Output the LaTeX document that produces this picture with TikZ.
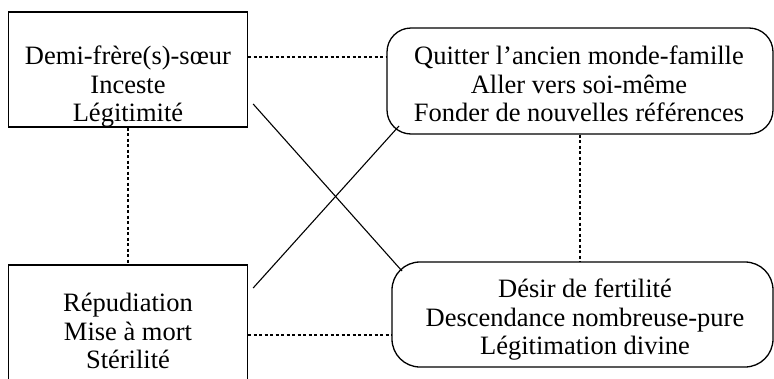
\documentclass[tikz,border=0pt]{standalone}
\usepackage{fontspec}
\setmainfont{Liberation Serif}
\usetikzlibrary{calc}
\begin{document}
\begin{tikzpicture}[x=1pt,y=-1pt,
  sqbox/.style={draw,line width=1.3pt,rectangle,inner sep=0pt},
  rndbox/.style={draw,line width=1.3pt,rectangle,inner sep=0pt},
  txt/.style={font=\fontsize{26.5}{28.5}\selectfont,align=center,inner sep=0pt},
  dots/.style={line width=1.4pt,dash pattern=on 3pt off 2.5pt},
  link/.style={line width=1.1pt}]
\useasboundingbox (0,0) rectangle (774,378);
\clip (0,0) rectangle (774,378);
% boxes
\node[sqbox,minimum width=239pt,minimum height=115pt] (A) at (128,69.5) {};
\node[sqbox,minimum width=239pt,minimum height=130pt] (C) at (128,330) {};
\node[rndbox,rounded corners=24pt,minimum width=386pt,minimum height=106pt] (B) at (580,81) {};
\node[rndbox,rounded corners=28pt,minimum width=381pt,minimum height=105pt] (D) at (582.5,314.5) {};
% texts
\node[txt] (tA) at (128,87) {Demi-frère(s)-sœur\\Inceste\\Légitimité};
\node[txt] (tB) at (579,84) {Quitter l’ancien monde-famille\\Aller vers soi-même\\Fonder de nouvelles références};
\node[txt] (tC) at (128,331) {Répudiation\\Mise à mort\\Stérilité};
\node[txt] (tD) at (585,320) {Désir de fertilité\\Descendance nombreuse-pure\\Légitimation divine};
% connectors
\coordinate (a1) at ([xshift=5pt]A.east |- 0,104);
\coordinate (d1) at (402,271);
\coordinate (c1) at ([xshift=5pt]C.east |- 0,288);
\coordinate (b1) at (399,126);
\draw[dots] (A.east |- 0,57) -- (B.west |- 0,57);
\draw[dots] (A.south) -- (C.north);
\draw[dots] (B.south) -- (B.south |- D.north);
\draw[dots] (C.east |- 0,335) -- (D.west |- 0,335);
\draw[link] (a1) -- (d1);
\draw[link] (c1) -- (b1);
\end{tikzpicture}
\end{document}
